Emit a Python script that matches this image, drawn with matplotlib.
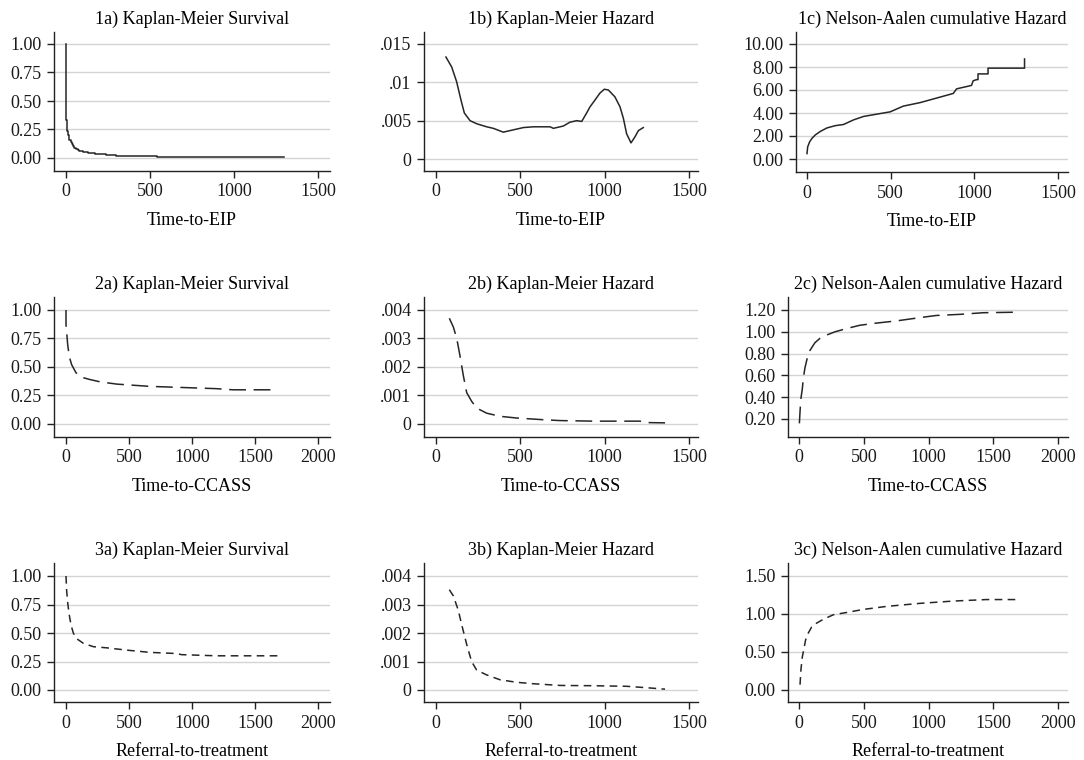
import matplotlib.pyplot as plt

plt.rcParams['font.family'] = ['Liberation Serif', 'DejaVu Serif']

W, H = 1084, 760

# ---- 1) Time-to-EIP ----
eip_surv_t = [0, 2, 4, 6, 9, 12, 16, 20, 27, 35, 42, 50, 60, 70, 80, 90, 100, 110,
              130, 150, 175, 200, 240, 300, 400, 540, 1300]
eip_surv_s = [1.0, 0.33, 0.27, 0.24, 0.22, 0.20, 0.18, 0.16, 0.14, 0.12, 0.105, 0.09,
              0.08, 0.07, 0.065, 0.06, 0.055, 0.05, 0.045, 0.04, 0.037, 0.035,
              0.028, 0.02, 0.015, 0.008, 0.008]

eip_haz_t = [59, 93, 122, 148, 168, 202, 241, 300, 340, 399, 458, 518, 577, 636, 676,
             696, 755, 794, 834, 864, 893, 913, 943, 972, 998, 1022, 1061, 1091, 1111,
             1130, 1156, 1180, 1200, 1229]
eip_haz_h = [0.0133, 0.0120, 0.0101, 0.0077, 0.0060, 0.0050, 0.0046, 0.0042, 0.0040,
             0.0035, 0.0038, 0.0041, 0.0042, 0.0042, 0.0042, 0.0040, 0.0043, 0.0048,
             0.0050, 0.0049, 0.0060, 0.0068, 0.0077, 0.0086, 0.0091, 0.0090, 0.0081,
             0.0068, 0.0053, 0.0033, 0.0021, 0.0029, 0.0037, 0.0041]

# dense part drawn as a curve, the sparse tail keeps its jumps
eip_na_t = [0, 4, 16, 30, 50, 80, 119, 169, 218, 278, 338, 417, 497, 576, 675, 775,
            874, 894, 954, 983, 993, 1013, 1022, 1022, 1082, 1082, 1300, 1300]
eip_na_h = [0.47, 1.05, 1.5, 1.8, 2.1, 2.4, 2.7, 2.9, 3.0, 3.4, 3.7, 3.9, 4.1, 4.6,
            4.9, 5.3, 5.7, 6.1, 6.3, 6.4, 6.8, 6.9, 6.9, 7.4, 7.4, 7.9, 7.9, 8.7]

# ---- 2) Time-to-CCASS ----
ccass_surv_t = [0, 0, 5, 13, 26, 45, 79, 124, 190, 270, 402, 534, 666, 930, 1194,
                1326, 1670]
ccass_surv_s = [1.0, 0.87, 0.81, 0.70, 0.59, 0.52, 0.45, 0.41, 0.39, 0.37, 0.35,
                0.34, 0.33, 0.32, 0.31, 0.30, 0.30]

ccass_haz_t = [79, 103, 123, 142, 162, 182, 211, 241, 300, 379, 478, 636, 735, 933,
               1209, 1249, 1358]
ccass_haz_h = [0.00371, 0.0034, 0.0030, 0.0024, 0.0017, 0.0011, 0.0008, 0.00056,
               0.00038, 0.00027, 0.00021, 0.00015, 0.00012, 0.0001, 0.0001, 0.00005,
               0.00004]

ccass_na_t = [3, 8, 15, 26, 33, 46, 64, 85, 123, 162, 213, 278, 368, 470, 599, 753,
              933, 1062, 1242, 1422, 1692]
ccass_na_h = [0.16, 0.27, 0.39, 0.48, 0.57, 0.67, 0.76, 0.83, 0.90, 0.94, 0.97, 1.0,
              1.03, 1.06, 1.08, 1.10, 1.13, 1.15, 1.16, 1.175, 1.18]

# ---- 3) Referral-to-treatment ----
rtt_surv_t = [0, 5, 13, 24, 40, 58, 85, 137, 217, 322, 480, 666, 877, 917, 1194, 1683]
rtt_surv_s = [1.0, 0.875, 0.77, 0.67, 0.57, 0.50, 0.45, 0.41, 0.38, 0.37, 0.35, 0.33,
              0.32, 0.31, 0.30, 0.30]

rtt_haz_t = [79, 103, 132, 152, 182, 211, 241, 300, 379, 478, 577, 735, 933, 1130,
             1249, 1358]
rtt_haz_h = [0.00352, 0.0033, 0.0028, 0.0023, 0.0016, 0.0010, 0.0007, 0.00053,
             0.00036, 0.00027, 0.00022, 0.00016, 0.00015, 0.00013, 0.00008, 0.00003]

rtt_na_t = [8, 15, 26, 39, 51, 72, 98, 136, 188, 265, 368, 496, 676, 933, 1190, 1447,
            1692]
rtt_na_h = [0.07, 0.27, 0.44, 0.55, 0.66, 0.75, 0.83, 0.88, 0.93, 0.99, 1.02, 1.06,
            1.10, 1.14, 1.17, 1.19, 1.19]

xlabels = ["Time-to-EIP", "Time-to-CCASS", "Referral-to-treatment"]
titles = ["Kaplan-Meier Survival", "Kaplan-Meier Hazard", "Nelson-Aalen cumulative Hazard"]

surv_ticks = [0, 0.25, 0.5, 0.75, 1.0]
surv_labels = ["0.00", "0.25", "0.50", "0.75", "1.00"]

# one dict per panel: data, ticks, and pixel geometry of the plot region
panels = [
    # row 1
    dict(t=eip_surv_t, y=eip_surv_s, step=True, box=(54, 32, 330, 171),
         xref=(0, 66, 1500, 318), yref=(0, 158, 1.0, 44),
         xt=[0, 500, 1000, 1500], yt=surv_ticks, ytl=surv_labels),
    dict(t=eip_haz_t, y=eip_haz_h, step=False, box=(424, 32, 698, 171),
         xref=(0, 436, 1500, 689), yref=(0, 159, 0.015, 44),
         xt=[0, 500, 1000, 1500], yt=[0, 0.005, 0.01, 0.015],
         ytl=["0", ".005", ".01", ".015"]),
    dict(t=eip_na_t, y=eip_na_h, step=False, box=(796, 32, 1068, 172),
         xref=(0, 807, 1500, 1058), yref=(0, 159, 10, 44),
         xt=[0, 500, 1000, 1500], yt=[0, 2, 4, 6, 8, 10],
         ytl=["0.00", "2.00", "4.00", "6.00", "8.00", "10.00"]),
    # row 2
    dict(t=ccass_surv_t, y=ccass_surv_s, step=False, box=(54, 297, 330, 437),
         xref=(0, 66, 2000, 318), yref=(0, 424, 1.0, 310),
         xt=[0, 500, 1000, 1500, 2000], yt=surv_ticks, ytl=surv_labels),
    dict(t=ccass_haz_t, y=ccass_haz_h, step=False, box=(424, 297, 698, 437),
         xref=(0, 436, 1500, 689), yref=(0, 424, 0.004, 310),
         xt=[0, 500, 1000, 1500], yt=[0, 0.001, 0.002, 0.003, 0.004],
         ytl=["0", ".001", ".002", ".003", ".004"]),
    dict(t=ccass_na_t, y=ccass_na_h, step=False, box=(788, 297, 1068, 437),
         xref=(0, 799, 2000, 1058), yref=(0.2, 419, 1.2, 310),
         xt=[0, 500, 1000, 1500, 2000], yt=[0.2, 0.4, 0.6, 0.8, 1.0, 1.2],
         ytl=["0.20", "0.40", "0.60", "0.80", "1.00", "1.20"]),
    # row 3
    dict(t=rtt_surv_t, y=rtt_surv_s, step=False, box=(54, 563, 330, 702),
         xref=(0, 66, 2000, 318), yref=(0, 690, 1.0, 576),
         xt=[0, 500, 1000, 1500, 2000], yt=surv_ticks, ytl=surv_labels),
    dict(t=rtt_haz_t, y=rtt_haz_h, step=False, box=(424, 563, 698, 702),
         xref=(0, 436, 1500, 689), yref=(0, 690, 0.004, 576),
         xt=[0, 500, 1000, 1500], yt=[0, 0.001, 0.002, 0.003, 0.004],
         ytl=["0", ".001", ".002", ".003", ".004"]),
    dict(t=rtt_na_t, y=rtt_na_h, step=False, box=(788, 563, 1068, 702),
         xref=(0, 799, 2000, 1058), yref=(0, 690, 1.5, 576),
         xt=[0, 500, 1000, 1500, 2000], yt=[0, 0.5, 1.0, 1.5],
         ytl=["0.00", "0.50", "1.00", "1.50"]),
]

row_dashes = [None, (11, 5), (5, 3.5)]
ink = "#262626"

fig = plt.figure(figsize=(W / 100, H / 100), dpi=100)

for i, p in enumerate(panels):
    row, col = divmod(i, 3)
    l, t, r, b = p["box"]
    ax = fig.add_axes([l / W, 1 - b / H, (r - l) / W, (b - t) / H])

    # map pixel box to data limits using two reference ticks per axis
    v0, p0, v1, p1 = p["xref"]
    sx = (v1 - v0) / (p1 - p0)
    ax.set_xlim(v0 + (l - p0) * sx, v0 + (r - p0) * sx)
    v0, p0, v1, p1 = p["yref"]
    sy = (v1 - v0) / (p0 - p1)
    ax.set_ylim(v0 + (p0 - b) * sy, v0 + (p0 - t) * sy)

    if p["step"]:
        line, = ax.step(p["t"], p["y"], where="post", color=ink, lw=1.1)
    else:
        line, = ax.plot(p["t"], p["y"], color=ink, lw=1.1)
    if row_dashes[row] is not None:
        line.set_dashes(row_dashes[row])

    ax.set_xticks(p["xt"])
    ax.set_yticks(p["yt"])
    ax.set_yticklabels(p["ytl"])
    for yv in p["yt"]:
        ax.axhline(yv, color="#d4d4d4", lw=1.0, zorder=0)

    for side in ("top", "right"):
        ax.spines[side].set_visible(False)
    for side in ("left", "bottom"):
        ax.spines[side].set_color("#222222")
        ax.spines[side].set_linewidth(1.0)
    ax.tick_params(direction="out", length=5, width=1.0, color="#222222",
                   labelsize=13, labelcolor="#1a1a1a", pad=4)

    ax.set_title(f"{row + 1}{'abc'[col]}) {titles[col]}", fontsize=13, pad=6)
    ax.set_xlabel(xlabels[row], fontsize=13, labelpad=8)

fig.savefig("out.png", dpi=100, facecolor="white")
